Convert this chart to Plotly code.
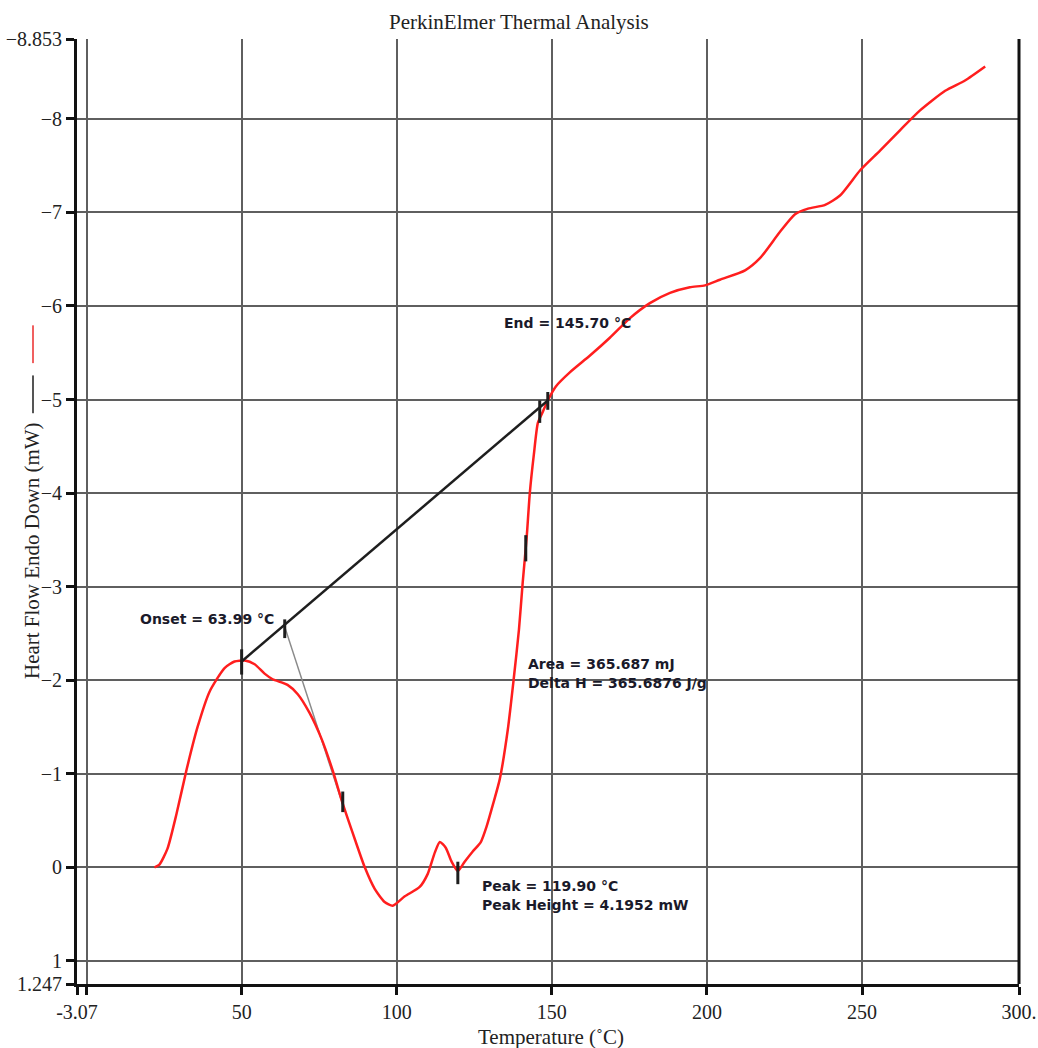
import plotly.graph_objects as go

# ---- data ----
temp = [21.9, 23.5, 26.1, 29.0, 32.3, 35.8, 39.7, 44.5, 47.7, 51.0, 54.2, 57.4, 60.0, 64.8,
        68.1, 71.9, 75.8, 79.4, 82.6, 86.5, 89.7, 92.9, 96.1, 98.7, 102.6, 107.4,
        110.0, 112.3, 113.9, 115.8, 117.7, 119.7, 121.9, 124.5, 127.1, 129.0, 131.0, 133.2,
        135.8, 137.7, 139.4, 140.6, 141.9, 142.9, 144.2, 145.5, 147.1, 148.7, 151.3, 155.8,
        162.3, 168.7, 175.2, 181.6, 188.1, 194.5, 199.4, 204.2, 212.3, 217.1, 223.5, 228.4,
        232.6, 238.1, 242.9, 249.4, 255.8, 262.3, 268.7, 276.8, 283.2, 289.7]
heat_flow = [0.00, -0.03, -0.20, -0.57, -1.05, -1.50, -1.88, -2.13, -2.20, -2.21, -2.17, -2.07,
             -2.01, -1.95, -1.85, -1.65, -1.37, -1.03, -0.68, -0.30, 0.00, 0.23, 0.37,
             0.41, 0.31, 0.21, 0.07, -0.16, -0.27, -0.21, -0.06, 0.04, -0.06, -0.17, -0.27,
             -0.44, -0.67, -0.94, -1.47, -2.01, -2.54, -3.04, -3.53, -4.00, -4.41, -4.75,
             -4.87, -4.99, -5.14, -5.29, -5.47, -5.66, -5.87, -6.03, -6.14, -6.20, -6.22,
             -6.28, -6.38, -6.51, -6.79, -6.98, -7.04, -7.08, -7.18, -7.45, -7.66, -7.88,
             -8.09, -8.30, -8.41, -8.56]

baseline_x = [50.0, 148.7]
baseline_y = [-2.20, -4.99]

tangent_x = [63.9, 82.6]
tangent_y = [-2.57, -0.67]

marker_x = [50.0, 63.9, 82.6, 119.7, 141.6, 146.1, 148.7]
marker_y0 = [-2.33, -2.65, -0.81, -0.06, -3.55, -4.99, -5.08]
marker_y1 = [-2.06, -2.45, -0.59, 0.18, -3.27, -4.75, -4.89]

x_tickvals = [-3.07, 0, 50, 100, 150, 200, 250, 300.6]
x_ticktext = ["-3.07", "", "50", "100", "150", "200", "250", "300."]
y_tickvals = [-8.853, -8, -7, -6, -5, -4, -3, -2, -1, 0, 1, 1.247]
y_ticktext = ["\u22128.853", "\u22128", "\u22127", "\u22126", "\u22125", "\u22124", "\u22123",
              "\u22122", "\u22121", "0", "1", "1.247"]

labels = [
    ("Onset = 63.99 \u00b0C", 16.5, -2.65),
    ("End = 145.70 \u00b0C", 133.9, -5.82),
    ("Area = 365.687 mJ", 141.6, -2.17),
    ("Delta H = 365.6876 J/g", 141.6, -1.97),
    ("Peak = 119.90 \u00b0C", 126.8, 0.20),
    ("Peak Height = 4.1952 mW", 126.8, 0.40),
]

# ---- figure ----
fig = go.Figure()
fig.add_trace(go.Scatter(x=tangent_x, y=tangent_y, mode="lines",
                         line=dict(color="#8a8a8a", width=1.5), hoverinfo="skip"))
fig.add_trace(go.Scatter(x=temp, y=heat_flow, mode="lines",
                         line=dict(color="#ff1e1e", width=2.5, shape="spline", smoothing=0.6)))
fig.add_trace(go.Scatter(x=baseline_x, y=baseline_y, mode="lines",
                         line=dict(color="#1e1e1e", width=2.5)))
mx, my = [], []
for x, a, b in zip(marker_x, marker_y0, marker_y1):
    mx += [x, x, None]
    my += [a, b, None]
fig.add_trace(go.Scatter(x=mx, y=my, mode="lines", line=dict(color="#1e1e1e", width=3)))

serif = "Liberation Serif"
axis_common = dict(
    showgrid=True, gridcolor="#5f5f5f", gridwidth=2,
    showline=True, linecolor="#111111", linewidth=3,
    ticks="outside", ticklen=8, tickwidth=3, tickcolor="#111111",
    tickfont=dict(family=serif, size=20, color="#222222"),
    zeroline=False, tickmode="array", automargin=False,
)
fig.update_xaxes(range=[-3.07, 300.6], tickvals=x_tickvals, ticktext=x_ticktext, **axis_common)
fig.update_yaxes(range=[1.247, -8.853], tickvals=y_tickvals, ticktext=y_ticktext, **axis_common)

for text, x, y in labels:
    fig.add_annotation(x=x, y=y, xref="x", yref="y", text="<b>" + text + "</b>", showarrow=False,
                       xanchor="left", yanchor="middle",
                       font=dict(family="DejaVu Sans", size=14, color="#1a1a2a"))

# titles
fig.add_annotation(x=0.469, y=1.018, xref="paper", yref="paper",
                   text="PerkinElmer Thermal Analysis", showarrow=False,
                   xanchor="center", yanchor="middle",
                   font=dict(family=serif, size=21, color="#222222"))
fig.add_annotation(x=-0.048, y=0.459, xref="paper", yref="paper",
                   text="Heart Flow Endo Down (mW)", showarrow=False, textangle=-90,
                   xanchor="center", yanchor="middle",
                   font=dict(family=serif, size=21, color="#222222"))
fig.add_annotation(x=0.503, y=-0.056, xref="paper", yref="paper",
                   text="Temperature (\u02daC)", showarrow=False,
                   xanchor="center", yanchor="middle",
                   font=dict(family=serif, size=21, color="#222222"))

# right frame edge and small legend-like marks at left
fig.add_shape(type="line", xref="paper", yref="paper", x0=1, x1=1, y0=0, y1=1,
              line=dict(color="#111111", width=3))
fig.add_shape(type="line", xref="paper", yref="paper", x0=-0.0467, x1=-0.0467,
              y0=0.657, y1=0.697, line=dict(color="#f06060", width=2))
fig.add_shape(type="line", xref="paper", yref="paper", x0=-0.0467, x1=-0.0467,
              y0=0.604, y1=0.644, line=dict(color="#555555", width=2))

fig.update_layout(
    width=1038, height=1048,
    margin=dict(l=77, r=19, t=39, b=64),
    paper_bgcolor="white", plot_bgcolor="white",
    showlegend=False,
)

fig.write_html("out.html")
